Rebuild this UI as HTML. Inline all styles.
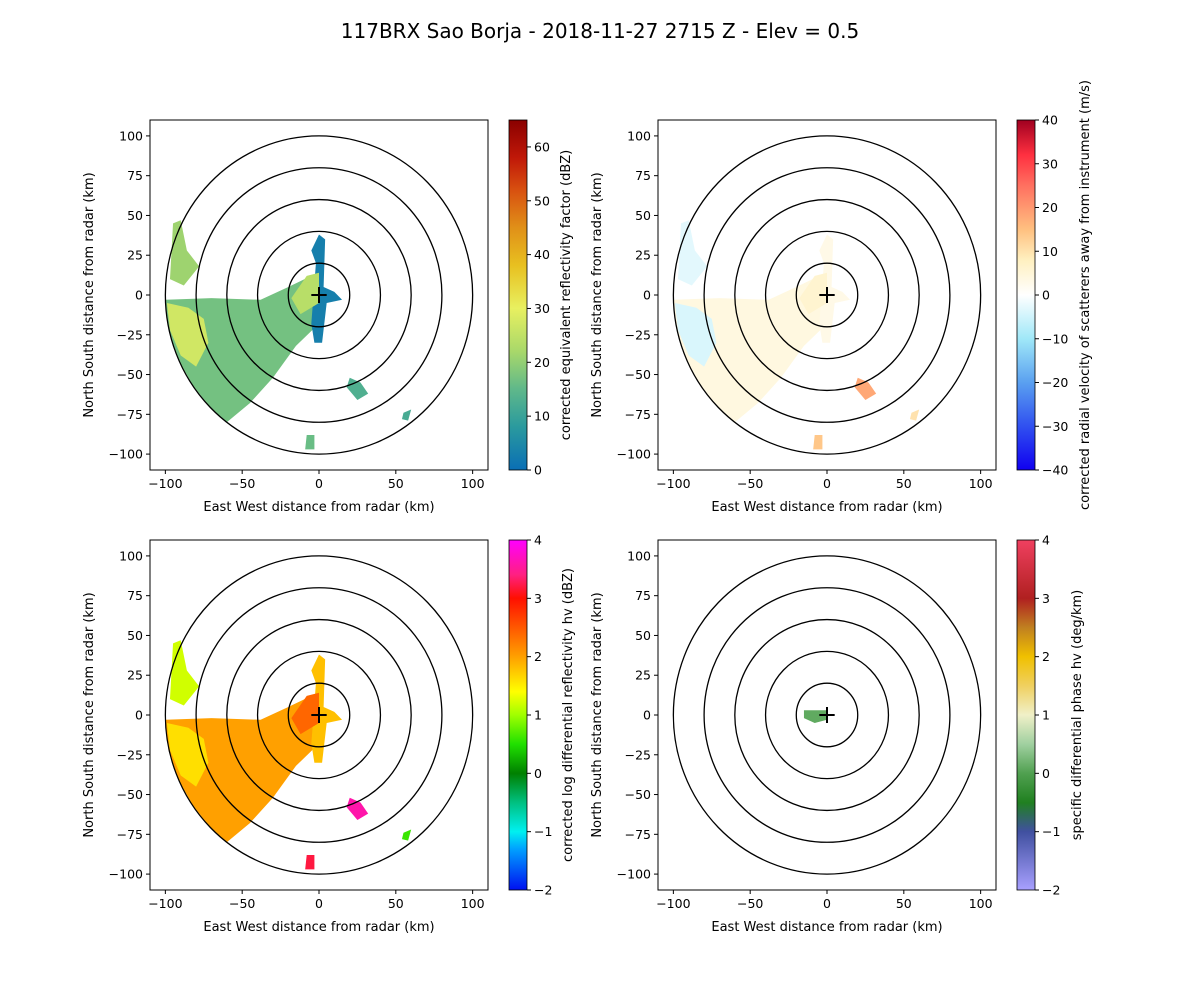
<!DOCTYPE html>
<html><head><meta charset="utf-8"><style>
body{margin:0;background:#fff}
svg text{font-family:"DejaVu Sans","Liberation Sans",sans-serif;fill:#000}
</style></head><body>
<svg id="fig" width="1200" height="1000" xmlns="http://www.w3.org/2000/svg">
<rect width="1200" height="1000" fill="#fff"/>
<text x="600" y="38" font-size="20" text-anchor="middle">117BRX Sao Borja - 2018-11-27 2715 Z -  Elev = 0.5</text>
</svg>
<script>
// ---- data ----
const xTicks=[-100,-50,0,50,100];
const yTicks=[-100,-75,-50,-25,0,25,50,75,100];
const ringRadii=[20,40,60,80,100];
// echo polygons in km (x,y)
const echoA=[[-100,-3],[-70,-2],[-38,-3],[-20,5],[-5,12],[0,5],[0,-18],[-15,-32],[-30,-52],[-45,-68],[-60,-80],[-70,-72],[-82,-57],[-92,-40],[-98,-22]];
const echoB=[[-99,-5],[-85,-8],[-75,-15],[-72,-30],[-80,-45],[-90,-38],[-97,-22]];
const echoC=[[0,38],[4,35],[3,5],[10,2],[15,-3],[5,-5],[2,-30],[-3,-30],[-5,-18],[-2,20],[-5,28]];
const echoD=[[-95,45],[-90,47],[-86,28],[-78,18],[-88,6],[-97,10]];
const echoE=[[20,-52],[27,-55],[32,-62],[25,-66],[18,-58]];
const echoF=[[-8,-88],[-3,-88],[-3,-97],[-9,-97]];
const echoG=[[55,-74],[60,-72],[58,-79],[54,-78]];
const echoH=[[-18,-2],[-8,12],[0,14],[0,-5],[-12,-12]];
const echoK=[[-15,3],[0,3],[0,-3],[-8,-5],[-15,-2]];
const shapes=[echoA,echoB,echoC,echoD,echoE,echoF,echoG,echoH];
const reflValues=[17,27,3,21,13,16,12,24];
const velValues=[4,-4,3,-3,18,14,10,6];
const zdrValues=[2.0,1.6,1.8,1.2,3.6,3.2,0.6,2.4];
const kdpShapes=[echoK];
const kdpValues=[0.1];
// ---- colormaps ----
const cmRefl=[[0,'#0a6fb5'],[8,'#2a9a9e'],[15,'#5fb88a'],[22,'#a8d86a'],[30,'#e8f060'],[38,'#e8c020'],[45,'#e09018'],[52,'#d85010'],[58,'#c01808'],[65,'#8a0000']];
const cmVel=[[-40,'#1000f0'],[-30,'#3050f0'],[-20,'#5aa0f0'],[-10,'#a0e8f8'],[0,'#ffffff'],[8,'#fff0c0'],[15,'#ffc080'],[25,'#ff7060'],[32,'#ff3040'],[40,'#a00020']];
const cmZdr=[[-2,'#0010f0'],[-1.3,'#00a0ff'],[-1,'#00f0f0'],[-0.5,'#00c080'],[0,'#008000'],[0.5,'#20e000'],[1,'#a0ff00'],[1.4,'#ffff00'],[2,'#ffa000'],[3,'#ff1000'],[3.4,'#ff2080'],[4,'#ff00ff']];
const cmKdp=[[-2,'#a8a0ff'],[-1,'#4050a0'],[-0.5,'#208020'],[0,'#50a050'],[0.5,'#a0d0a0'],[1,'#f0f0c8'],[1.5,'#f0d060'],[2,'#f0c000'],[2.5,'#c08020'],[3,'#b02020'],[4,'#f04060']];
const NS='http://www.w3.org/2000/svg';
const svg=document.getElementById('fig');
function mk(t,a,p){const e=document.createElementNS(NS,t);for(const k in a)e.setAttribute(k,a[k]);(p||svg).appendChild(e);return e;}
function hex(c){return [1,3,5].map(i=>parseInt(c.substr(i,2),16));}
function cmap(st,v){if(v<=st[0][0])return st[0][1];for(let i=1;i<st.length;i++){if(v<=st[i][0]){const t=(v-st[i-1][0])/(st[i][0]-st[i-1][0]);const a=hex(st[i-1][1]),b=hex(st[i][1]);return 'rgb('+a.map((x,j)=>Math.round(x+(b[j]-x)*t)).join(',')+')';}}return st[st.length-1][1];}
const panels=[
 {x0:150,y0:120,cb:509,cm:cmRefl,vmin:0,vmax:65,ticks:[0,10,20,30,40,50,60],label:'corrected equivalent reflectivity factor (dBZ)',lx:570,sh:shapes,vals:reflValues,n:'reflectivity'},
 {x0:658,y0:120,cb:1017,cm:cmVel,vmin:-40,vmax:40,ticks:[-40,-30,-20,-10,0,10,20,30,40],label:'corrected radial velocity of scatterers away from instrument (m/s)',lx:1089,sh:shapes,vals:velValues,n:'velocity'},
 {x0:150,y0:540,cb:509,cm:cmZdr,vmin:-2,vmax:4,ticks:[-2,-1,0,1,2,3,4],label:'corrected log differential reflectivity hv (dBZ)',lx:572,sh:shapes,vals:zdrValues,n:'zdr'},
 {x0:658,y0:540,cb:1017,cm:cmKdp,vmin:-2,vmax:4,ticks:[-2,-1,0,1,2,3,4],label:'specific differential phase hv (deg/km)',lx:1081,sh:kdpShapes,vals:kdpValues,n:'kdp'}];
const W=338,H=350;
panels.forEach(p=>{
 const g=mk('g',{});
 
 
 const sx=k=>p.x0+(k+110)/220*W, sy=k=>p.y0+(110-k)/220*H;
 p.sh.forEach((s,i)=>{const e=mk('polygon',{points:s.map(q=>sx(q[0])+','+sy(q[1])).join(' '),fill:cmap(p.cm,p.vals[i])},g);
  
  });
 ringRadii.forEach(r=>{const e=mk('ellipse',{cx:sx(0),cy:sy(0),rx:r/220*W,ry:r/220*H,fill:'none',stroke:'#000','stroke-width':1.3},g);
  
  });
 const c=mk('path',{d:`M${sx(-5)},${sy(0)}H${sx(5)}M${sx(0)},${sy(5)}V${sy(-5)}`,stroke:'#000','stroke-width':2},g);
 
 
 const fr=mk('rect',{x:p.x0,y:p.y0,width:W,height:H,fill:'none',stroke:'#000','stroke-width':1},g);
 
 
 xTicks.forEach(t=>{mk('line',{x1:sx(t),x2:sx(t),y1:p.y0+H,y2:p.y0+H+4,stroke:'#000'},g);
  const tx=mk('text',{x:sx(t),y:p.y0+H+18,'font-size':12.5,'text-anchor':'middle'},g);tx.textContent=t===0?'0':String(t).replace('-','−');
  
  });
 yTicks.forEach(t=>{mk('line',{x1:p.x0-4,x2:p.x0,y1:sy(t),y2:sy(t),stroke:'#000'},g);
  const tx=mk('text',{x:p.x0-7,y:sy(t)+4.5,'font-size':12.5,'text-anchor':'end'},g);tx.textContent=String(t).replace('-','−');
  
  });
 const xl=mk('text',{x:p.x0+W/2,y:p.y0+H+41,'font-size':13,'text-anchor':'middle'},g);xl.textContent='East West distance from radar (km)';
 
 
 const yl=mk('text',{x:0,y:0,'font-size':13,'text-anchor':'middle',transform:`translate(${p.x0-57},${p.y0+H/2}) rotate(-90)`},g);yl.textContent='North South distance from radar (km)';
 
 
 const gid='grad'+p.n;const lg=mk('linearGradient',{id:gid,x1:0,y1:1,x2:0,y2:0},g);
 p.cm.forEach(s=>mk('stop',{offset:(s[0]-p.vmin)/(p.vmax-p.vmin),'stop-color':s[1]},lg));
 const cb=mk('rect',{x:p.cb,y:p.y0,width:18,height:H,fill:`url(#${gid})`,stroke:'#000','stroke-width':0.8},g);
 
 
 const cy=v=>p.y0+H-(v-p.vmin)/(p.vmax-p.vmin)*H;
 p.ticks.forEach(t=>{mk('line',{x1:p.cb+18,x2:p.cb+22,y1:cy(t),y2:cy(t),stroke:'#000'},g);
  const tx=mk('text',{x:p.cb+25,y:cy(t)+4.5,'font-size':12.5},g);tx.textContent=String(t).replace('-','−');
  
  });
 const cl=mk('text',{x:0,y:0,'font-size':13,'text-anchor':'middle',transform:`translate(${p.lx},${p.y0+H/2}) rotate(-90)`},g);cl.textContent=p.label;
 
 
});
</script>
</body></html>
